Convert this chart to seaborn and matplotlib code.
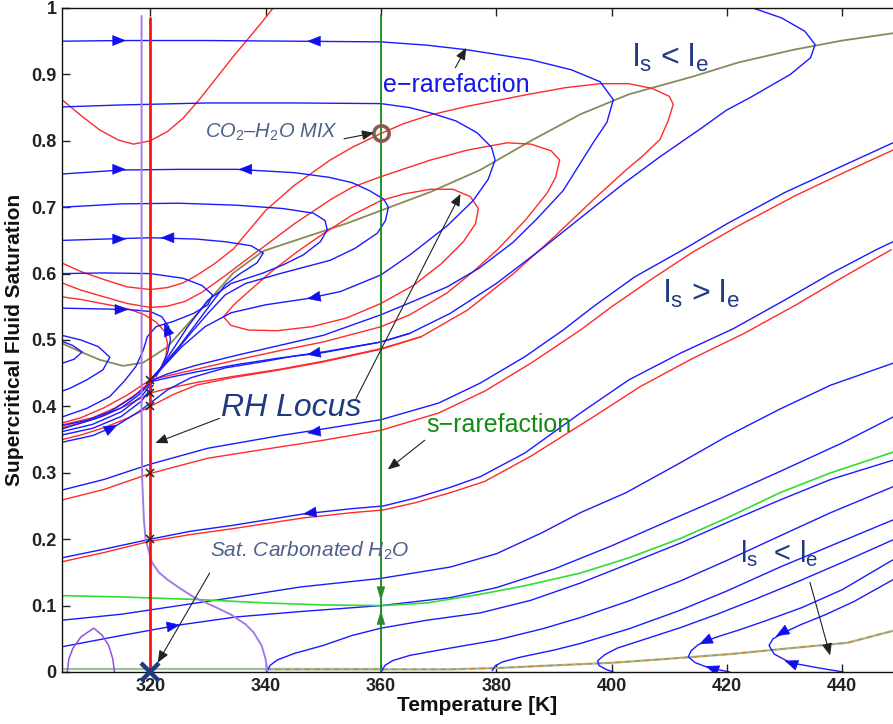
import matplotlib
matplotlib.use('Agg')
import matplotlib.pyplot as plt
from matplotlib.patches import FancyArrowPatch
import numpy as np
import pandas as pd
import seaborn as sns

# ---------------- data (T [K], saturation) ----------------
xticks = [320, 340, 360, 380, 400, 420, 440]
yticks = [0, 0.1, 0.2, 0.3, 0.4, 0.5, 0.6, 0.7, 0.8, 0.9, 1.0]
ytick_labels = ['0', '0.1', '0.2', '0.3', '0.4', '0.5', '0.6', '0.7', '0.8', '0.9', '1']

blue_loop_095 = [(304.7,0.950),(315,0.951),(330,0.951),(345,0.950),(360,0.949),(368,0.944),(375,0.937),(386,0.922),(393,0.907),(398,0.889),(400.3,0.862),(399.2,0.828),(396.8,0.797),(391.6,0.725),(387,0.682),(382.9,0.647),(377,0.608),(371.5,0.58),(365,0.556),(360,0.538),(350,0.507),(342.5,0.492),(335,0.477),(328,0.462),(323,0.449),(320.5,0.44),(318,0.417),(315,0.398),(311,0.383),(304.7,0.366)]
blue_loop_085 = [(304.7,0.851),(315,0.854),(330,0.857),(345,0.857),(360,0.856),(365,0.85),(368.6,0.842),(373,0.83),(376.7,0.812),(379.2,0.79),(379.8,0.771),(378.6,0.742),(376,0.71),(371.5,0.672),(365,0.628),(360,0.598),(353,0.573),(347,0.562),(340,0.553),(334,0.541),(329.5,0.52),(325.5,0.49),(322.5,0.462),(320.5,0.445)]
blue_loop_075 = [(304.7,0.750),(315,0.756),(325,0.757),(335,0.757),(345,0.752),(351,0.745),(355,0.737),(358,0.725),(360.5,0.712),(361.3,0.70),(360.8,0.68),(359.4,0.661),(355.5,0.638),(351.2,0.62),(342.5,0.6),(336.5,0.585),(333,0.568),(330,0.54),(327,0.51),(324,0.478),(321,0.447)]
blue_loop_070 = [(304.7,0.700),(315,0.705),(325,0.706),(335,0.703),(343,0.698),(348.3,0.691),(350.3,0.68),(350.7,0.666),(349.5,0.648),(346.5,0.628),(343,0.613),(339.6,0.601),(334,0.585),(330,0.56),(326.5,0.52),(323.5,0.48),(321,0.447)]
blue_loop_065 = [(304.7,0.650),(312,0.652),(320,0.654),(328,0.652),(333,0.648),(337.5,0.642),(339.6,0.631),(338.5,0.616),(335.6,0.6),(333,0.583),(331,0.56),(328,0.525),(325,0.49),(322,0.46),(320.5,0.445)]
blue_loop_060 = [(304.7,0.600),(312,0.601),(320,0.600),(325.7,0.593),(329,0.582),(330.8,0.568),(330,0.553),(327.5,0.54),(324,0.528),(321,0.52),(319.5,0.505),(318.8,0.485),(317.5,0.46),(315.5,0.438),(313,0.415),(309,0.397),(304.7,0.384)]
blue_line_055 = [(304.7,0.548),(310,0.547),(316,0.546),(320,0.543),(322,0.535),(323.2,0.52),(323.5,0.5),(323,0.48),(322,0.46),(321,0.445)]
blue_left_loop_1 = [(304.7,0.498),(306.5,0.492),(308.2,0.482),(306.8,0.471),(304.7,0.465)]
blue_left_loop_2 = [(304.7,0.507),(308,0.5),(311,0.49),(313,0.474),(311.8,0.455),(309,0.44),(306,0.427),(304.7,0.423)]
blue_separatrix = [(424.5,1.0),(429.5,0.985),(433.5,0.965),(435.3,0.945),(434.5,0.925),(431,0.9),(424,0.865),(419.9,0.846),(415.4,0.818),(408.4,0.776),(402,0.735),(396.8,0.699),(388,0.638),(380,0.585),(372,0.54),(365,0.51),(360,0.497),(350,0.481),(342.5,0.473),(335,0.463),(328,0.452),(323,0.443),(320.5,0.438),(317,0.414),(313,0.392),(309,0.379),(304.7,0.371)]
blue_bundle_a = [(304.7,0.362),(310,0.373),(315,0.392),(318.5,0.415),(320.5,0.438)]
blue_bundle_b = [(304.7,0.357),(310,0.367),(315,0.385),(318.5,0.408),(320.5,0.432)]
blue_bundle_c = [(304.7,0.346),(310,0.356),(314.3,0.372),(318,0.392),(320,0.405),(323,0.425),(327,0.443),(333,0.458),(340,0.468),(345,0.476),(350,0.482),(360,0.497),(365,0.51)]
blue_pair2 = [(304.7,0.274),(312,0.29),(320,0.313),(330,0.337),(342.5,0.356),(350,0.366),(360,0.38),(370,0.405),(377.2,0.435),(385,0.475),(391.6,0.515),(396.8,0.55),(404,0.595),(412.4,0.636),(420,0.675),(430,0.722),(440,0.762),(448.8,0.797)]
blue_pair3 = [(304.7,0.172),(312,0.185),(320,0.2),(327,0.212),(334.4,0.221),(346.5,0.238),(355,0.246),(360.4,0.25),(366,0.262),(372,0.278),(377.2,0.294),(385,0.33),(394.6,0.39),(403,0.44),(411.9,0.48),(421.1,0.517),(430,0.56),(438,0.6),(445.9,0.636),(448.8,0.648)]
blue_fan_1 = [(304.7,0.078),(315,0.087),(325,0.1),(335,0.113),(346,0.128),(360,0.141),(372,0.158),(380,0.178),(388,0.21),(394.6,0.24),(402.5,0.27),(411.9,0.315),(420,0.355),(429.2,0.396),(438,0.432),(448.8,0.465)]
blue_fan_2 = [(304.7,0.038),(315,0.055),(325.2,0.071),(335,0.083),(346,0.091),(360,0.1),(372,0.112),(380,0.127),(390,0.155),(400,0.19),(410,0.228),(418.2,0.259),(429.2,0.302),(440,0.345),(448.8,0.384)]
blue_fan_3 = [(340.3,0.002),(340.8,0.01),(342,0.018),(345,0.028),(350,0.04),(355,0.055),(360,0.066),(368,0.078),(377.2,0.089),(386,0.108),(394.6,0.134),(403,0.163),(411.9,0.194),(420,0.225),(429.2,0.259),(438,0.29),(448.8,0.319)]
blue_fan_4 = [(360.2,0.002),(360.7,0.01),(362,0.017),(365,0.025),(372,0.036),(380,0.048),(388,0.065),(394.6,0.082),(403,0.107),(411.9,0.137),(420,0.168),(429.2,0.205),(438,0.24),(448.8,0.279)]
blue_fan_5 = [(379.3,0.002),(379.8,0.009),(381,0.015),(384,0.022),(390,0.033),(394.6,0.043),(403,0.065),(411.9,0.093),(420,0.122),(429.2,0.158),(438,0.19),(448.8,0.229)]
blue_fan_6 = [(400.3,0.0),(399,0.004),(397.8,0.01),(397.6,0.017),(398.8,0.026),(401,0.036),(406.7,0.052),(412,0.067),(418.3,0.087),(425,0.11),(432,0.135),(440,0.165),(448.8,0.199)]
blue_fan_7 = [(420.5,0.0),(417,0.006),(414.5,0.014),(413.3,0.023),(413.8,0.032),(415,0.041),(418,0.052),(422,0.063),(427,0.078),(433,0.097),(440,0.124),(448.8,0.169)]
blue_fan_8 = [(440.2,0.0),(436,0.006),(431,0.014),(428.2,0.027),(427.3,0.04),(428,0.05),(430,0.06),(433,0.072),(437,0.086),(442,0.106),(448.8,0.139)]

red_parabola = [(304.7,0.862),(308,0.838),(311.3,0.816),(314.5,0.801),(317.1,0.795),(320,0.8),(323,0.814),(325.7,0.834),(328.5,0.862),(331.6,0.896),(334.5,0.928),(337.3,0.957),(339.5,0.98),(341.3,1.0)]
red_loop_a = [(304.7,0.616),(308,0.603),(312,0.591),(316,0.58),(320,0.576),(323,0.579),(325.7,0.586),(328,0.597),(331,0.614),(334.4,0.637),(337,0.664),(340,0.695),(345,0.733),(351.2,0.771),(355,0.79),(360,0.811),(364,0.826),(368.6,0.839),(375,0.852),(385,0.869),(392,0.88),(398,0.886),(403,0.886),(407,0.879),(410,0.867),(410.7,0.855),(409.8,0.83),(408.4,0.802),(405.5,0.778),(402.5,0.756),(396.8,0.711),(390,0.655),(383,0.6),(375,0.545),(367,0.505),(360,0.487),(350,0.468),(342.5,0.456),(335,0.446),(328,0.436),(323,0.427),(320,0.42),(316,0.402),(312,0.386),(308,0.375),(304.7,0.368)]
red_loop_b = [(304.7,0.586),(308,0.575),(312,0.565),(316,0.555),(320,0.549),(323,0.551),(326,0.558),(329,0.572),(333,0.597),(336.5,0.62),(339.6,0.64),(345,0.675),(351.2,0.711),(355,0.73),(360,0.746),(368.6,0.771),(375,0.786),(381.9,0.797),(386,0.795),(389.5,0.785),(391,0.771),(390.3,0.745),(388.8,0.721),(385,0.68),(380.2,0.636),(376,0.603),(371.5,0.571),(365,0.538),(360,0.52),(350,0.497),(342.5,0.484),(335,0.47),(328,0.456),(323,0.446),(320,0.44),(316,0.417),(312,0.398),(308,0.383),(304.7,0.375)]
red_teardrop = [(332.7,0.535),(334.5,0.553),(336.8,0.571),(341,0.603),(345.5,0.633),(350,0.66),(355,0.688),(360,0.71),(364,0.72),(368.6,0.727),(372.5,0.727),(375.5,0.716),(376.9,0.698),(376.4,0.675),(374.3,0.648),(370.5,0.615),(365.6,0.582),(360,0.555),(354,0.533),(348,0.52),(342,0.514),(337,0.515),(334,0.522),(332.7,0.535)]
red_separatrix = [(304.7,0.565),(308,0.561),(311,0.556),(314,0.551),(316.5,0.546),(319,0.538),(321,0.527),(322.5,0.513),(323,0.495),(322.7,0.475),(321.7,0.455),(320.3,0.44),(317.5,0.418),(314,0.398),(310,0.383),(304.7,0.372)]
red_bundle = [(304.7,0.35),(308,0.357),(312,0.368),(316,0.382),(320,0.40),(324,0.418),(328,0.432),(334,0.443),(342.5,0.455),(350,0.467),(360,0.486),(367,0.505)]
red_pair2 = [(304.7,0.259),(312,0.275),(320,0.299),(330,0.322),(342.5,0.339),(350,0.349),(360,0.364),(370,0.39),(378,0.423),(386,0.465),(394.6,0.515),(400,0.55),(407,0.592),(414,0.632),(422,0.672),(432,0.718),(441,0.755),(448.8,0.786)]
red_pair3 = [(304.7,0.166),(312,0.18),(320,0.197),(327,0.207),(334.4,0.216),(346.5,0.232),(355,0.24),(360.4,0.244),(366,0.255),(372,0.27),(378,0.287),(386,0.325),(396.8,0.384),(405,0.43),(414,0.472),(423,0.51),(432,0.553),(440,0.594),(448.5,0.636)]

green_curve = [(304.7,0.115),(315,0.113),(328.7,0.109),(340,0.104),(350,0.101),(360.3,0.1),(368,0.104),(377.2,0.117),(385,0.13),(394.6,0.149),(403,0.172),(411.9,0.201),(420,0.232),(429.2,0.27),(438,0.3),(448.8,0.331)]
olive_upper = [(304.7,0.495),(308,0.482),(311.3,0.47),(315.3,0.461),(318.8,0.466),(322.9,0.489),(328.7,0.545),(334.4,0.601),(339.6,0.634),(345.5,0.651),(354.2,0.676),(360,0.695),(368.6,0.723),(377.2,0.756),(386,0.8),(394.6,0.84),(403,0.87),(414.2,0.897),(422,0.918),(431.5,0.937),(440,0.951),(448.8,0.962)]
bottom_left_line = [(304.7,0.005),(320,0.005),(340,0.005),(360,0.005)]
bottom_right_line = [(340,0.004),(360,0.004),(372,0.004),(380.3,0.006),(390,0.01),(400.3,0.014),(410,0.02),(420.6,0.027),(430,0.035),(440.9,0.044),(448.8,0.062)]
purple_curve = [(318.5,0.988),(318.5,0.7),(318.5,0.4),(318.6,0.29),(318.9,0.23),(319.2,0.2),(320.3,0.165),(321.5,0.15),(323,0.139),(325,0.127),(327.5,0.113),(331,0.099),(333.9,0.087),(336.5,0.072),(337.9,0.06),(339.3,0.04),(340,0.02),(340.3,0.0)]
purple_arch = [(305.6,0.0),(305.9,0.02),(306.6,0.036),(308,0.053),(310.2,0.066),(311.6,0.056),(312.8,0.04),(313.5,0.02),(313.8,0.0)]
red_vertical = [(320,0.0),(320,0.985)]
green_vertical = [(360,0.0),(360,0.99)]

rh_points_T = [320, 320, 320, 320, 320]
rh_points_S = [0.44, 0.42, 0.40, 0.30, 0.20]
mix_point = (360, 0.812)
water_point = (320, 0.0)

# arrowheads on curves: (T, S, screen angle in degrees)
blue_arrowheads = [(315.8,0.951,0),(347.2,0.950,180),(315.8,0.757,0),(335.3,0.757,180),
                   (315.8,0.652,0),(321.8,0.654,180),(316.2,0.546,0),(322.4,0.526,112),
                   (314.3,0.372,27),(347.2,0.562,191),(347.2,0.478,190),(347.2,0.36,188),
                   (346.5,0.238,188),(325.2,0.071,9),(416.3,0.009,160),(415.2,0.042,205),
                   (430.0,0.017,160),(428.5,0.054,210)]
green_arrowheads = [(360,0.107,270),(360,0.093,90)]

# ---------------- style ----------------
sns.set_theme(style='white')
plt.rcParams['font.family'] = ['Liberation Sans', 'DejaVu Sans']
plt.rcParams['mathtext.fontset'] = 'custom'
plt.rcParams['mathtext.rm'] = 'Liberation Sans'
plt.rcParams['mathtext.it'] = 'Liberation Sans:italic'
plt.rcParams['mathtext.bf'] = 'Liberation Sans:bold'

BLUE = '#1a1aff'
RED = '#ff2a2a'
NAVY = '#1f3a80'
SLATE = '#4d6189'

fig = plt.figure(figsize=(8.93, 7.24), dpi=100)
ax = fig.add_axes([62/893, 52/724, 1 - 62/893, 664/724])
ax.set_xlim(304.7, 448.8)
ax.set_ylim(0, 1)


def draw(pts, color, lw=1.0, ls='-', z=2, alpha=1.0):
    df = pd.DataFrame(pts, columns=['T', 'S'])
    sns.lineplot(data=df, x='T', y='S', sort=False, estimator=None, ax=ax,
                 color=color, lw=lw, ls=ls, zorder=z, alpha=alpha)


# bottom lines and olive curve
draw(bottom_left_line, '#9fbf9a', lw=1.6, z=1)
draw(bottom_right_line, '#9fb8a0', lw=1.6, z=1)
draw(bottom_right_line, '#d08a20', lw=1.0, ls=(0, (4, 3)), z=1.1)
draw(olive_upper, '#8a8a58', lw=1.3, z=1.5)

for c in [red_parabola, red_loop_a, red_loop_b, red_teardrop, red_separatrix,
          red_bundle, red_pair2, red_pair3]:
    draw(c, RED, lw=1.0, z=2)

for c in [blue_loop_095, blue_loop_085, blue_loop_075, blue_loop_070, blue_loop_065,
          blue_loop_060, blue_line_055, blue_left_loop_1, blue_left_loop_2,
          blue_separatrix, blue_bundle_a, blue_bundle_b, blue_bundle_c,
          blue_pair2, blue_pair3, blue_fan_1, blue_fan_2, blue_fan_3, blue_fan_4,
          blue_fan_5, blue_fan_6, blue_fan_7, blue_fan_8]:
    draw(c, BLUE, lw=1.0, z=2.2)

draw(green_curve, '#33dd33', lw=1.2, z=2.3)
draw(purple_curve, '#a47ae6', lw=1.4, z=2.4)
draw(purple_arch, '#8e55d6', lw=1.1, z=2.4)
draw(green_vertical, '#138a13', lw=1.3, z=2.5)
draw(red_vertical, '#ff1010', lw=2.0, z=3)

ax.plot(rh_points_T, rh_points_S, 'x', color='#222222', ms=6, mew=1.1, zorder=4)
ax.plot([mix_point[0]], [mix_point[1]], 'o', ms=11, mfc='none', mec='#8a5a50', mew=2.6, zorder=5)
ax.plot([water_point[0]], [water_point[1]], 'x', ms=13, mew=3.2, color=NAVY, zorder=6, clip_on=False)

fig.canvas.draw()


def arrowhead(T, S, ang, color, L=5.0, scale=9.5, hw=0.38):
    tip = ax.transData.transform((T, S))
    a = np.deg2rad(ang)
    tail = tip - L * np.array([np.cos(a), np.sin(a)])
    tail_d = ax.transData.inverted().transform(tail)
    p = FancyArrowPatch(tuple(tail_d), (T, S),
                        arrowstyle='-|>,head_length=0.95,head_width=%.2f' % hw,
                        mutation_scale=scale, color=color, lw=0.4, zorder=6,
                        shrinkA=0, shrinkB=0)
    ax.add_patch(p)


for T, S, a in blue_arrowheads:
    arrowhead(T, S, a, '#1010ee')
for T, S, a in green_arrowheads:
    arrowhead(T, S, a, '#2a8a2a', scale=10, hw=0.28)


def pointer(tail, tip):
    ax.annotate('', xy=tip, xytext=tail,
                arrowprops=dict(arrowstyle='-|>,head_length=0.6,head_width=0.25',
                                color='#222222', lw=0.8, shrinkA=0, shrinkB=0),
                zorder=7)


# annotations
ax.text(329.5, 0.813, 'CO$_2$\u2013H$_2$O MIX', fontsize=14.5, style='italic', color=SLATE,
        ha='left', va='center', zorder=8)
pointer((353.6, 0.803), (358.8, 0.812))
ax.text(360.3, 0.884, 'e\u2212rarefaction', fontsize=18, color='#1515ee', ha='left', va='center', zorder=8)
pointer((372.9, 0.91), (374.8, 0.94))
ax.text(332.3, 0.397, 'RH Locus', fontsize=23, style='italic', color=NAVY, ha='left', va='center', zorder=8)
pointer((332.0, 0.382), (320.9, 0.345))
pointer((355.7, 0.412), (373.8, 0.72))
ax.text(367.8, 0.372, 's\u2212rarefaction', fontsize=18, color='#138a13', ha='left', va='center', zorder=8)
pointer((367.6, 0.349), (361.2, 0.305))
ax.text(330.4, 0.183, 'Sat. Carbonated H$_2$O', fontsize=15, style='italic', color=SLATE,
        ha='left', va='center', zorder=8)
pointer((330.3, 0.149), (321.3, 0.014))
ax.text(403.5, 0.925, r'$\mathregular{l_s}$ < $\mathregular{l_e}$', fontsize=23, color=NAVY,
        ha='left', va='center', zorder=8)
ax.text(409.0, 0.57, r'$\mathregular{l_s}$ > $\mathregular{l_e}$', fontsize=23, color=NAVY,
        ha='left', va='center', zorder=8)
ax.text(422.2, 0.178, r'$\mathregular{l_s}$  < $\mathregular{l_e}$', fontsize=21, color=NAVY,
        ha='left', va='center', zorder=8)
pointer((434.4, 0.135), (437.9, 0.025))

# axes styling
ax.set_xticks(xticks)
ax.set_xticklabels([str(t) for t in xticks])
ax.set_yticks(yticks)
ax.set_yticklabels(ytick_labels)
ax.tick_params(direction='in', length=6, width=1.0, top=True, right=False,
               bottom=True, left=True, labelsize=13, colors='#222222', pad=4)
for lab in ax.get_xticklabels() + ax.get_yticklabels():
    lab.set_fontweight('bold')
for s in ['left', 'bottom', 'top']:
    ax.spines[s].set_color('#111111')
    ax.spines[s].set_linewidth(1.0)
ax.spines['right'].set_visible(False)
ax.set_xlabel('Temperature [K]', fontsize=15, fontweight='bold', color='#111111', labelpad=1)
ax.set_ylabel('Supercritical Fluid Saturation', fontsize=15, fontweight='bold', color='#111111', labelpad=5)
ax.grid(False)

fig.savefig('out.png', dpi=100)
